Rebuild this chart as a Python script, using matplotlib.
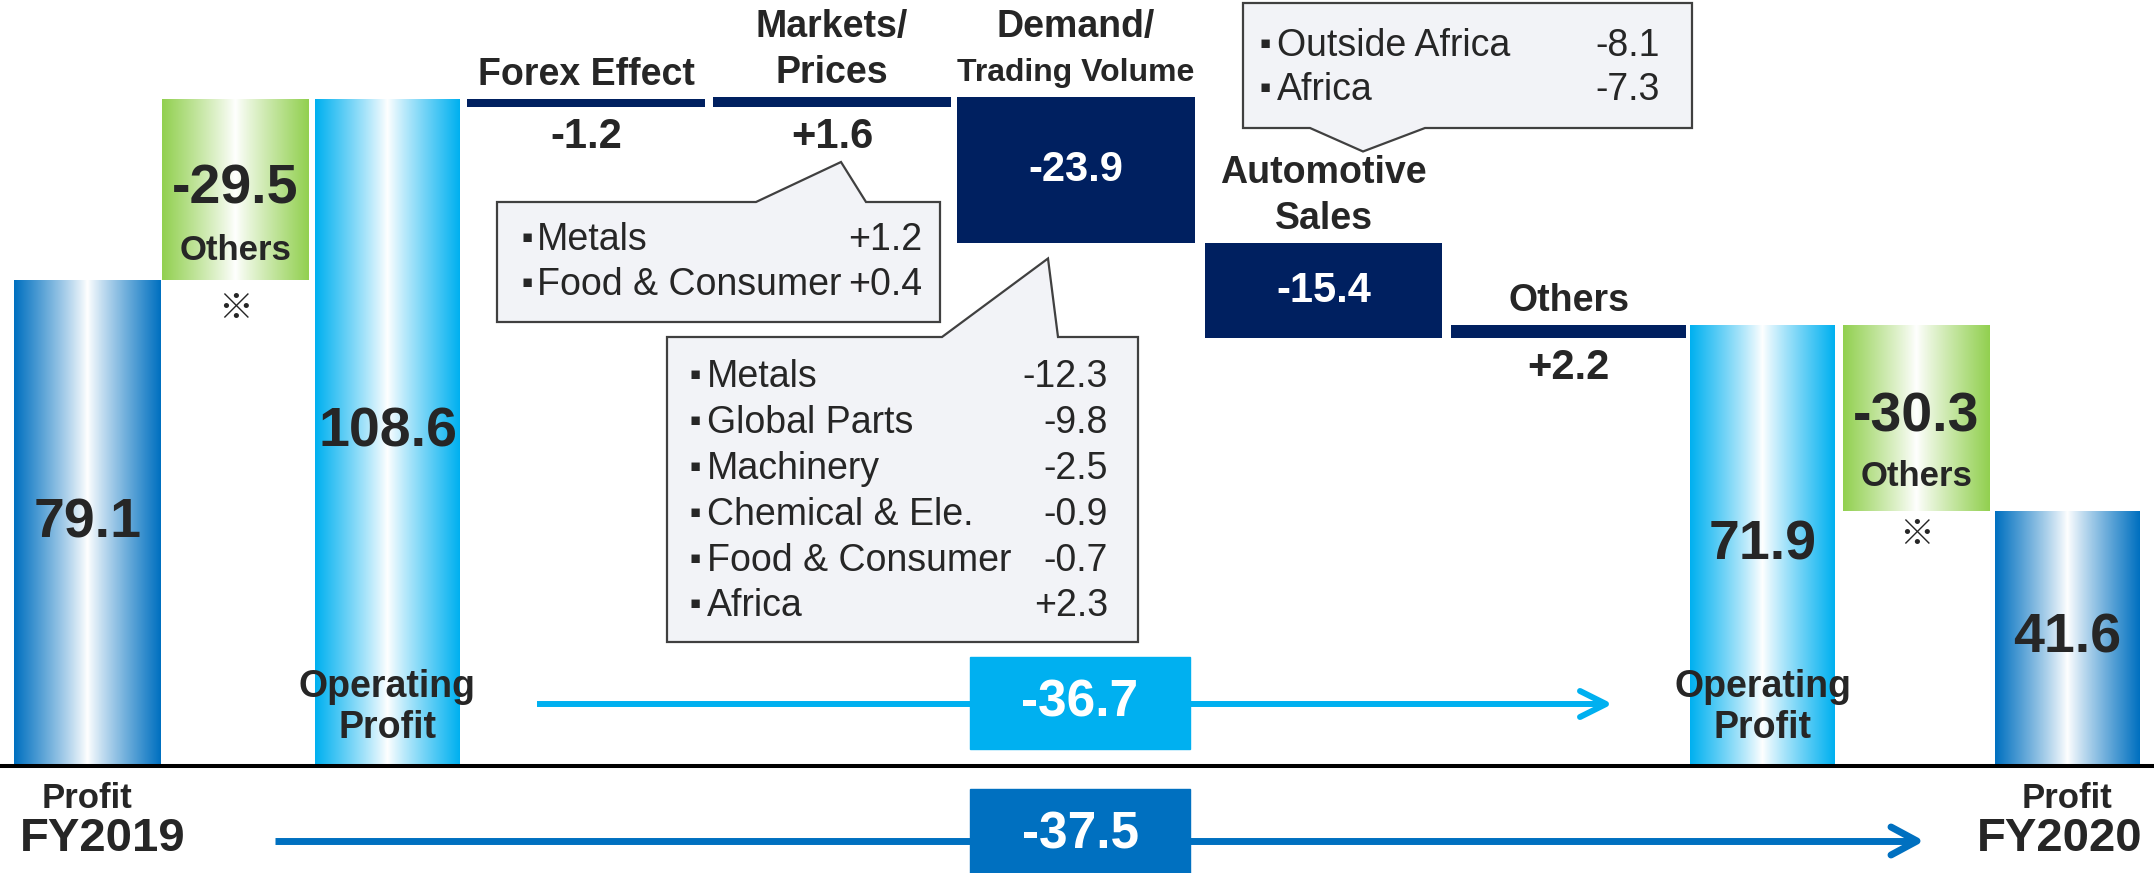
import numpy as np
import matplotlib
matplotlib.use("Agg")
import matplotlib.pyplot as plt
from matplotlib.colors import LinearSegmentedColormap
from matplotlib.patches import Polygon, Rectangle

# values (profit bridge FY2019 -> FY2020)
profit_fy2019 = 79.1
others_fy2019 = -29.5
op_fy2019 = 108.6
step_names = [["Forex Effect"], ["Markets/", "Prices"], ["Demand/", "Trading Volume"],
              ["Automotive", "Sales"], ["Others"]]
step_values = [-1.2, 1.6, -23.9, -15.4, 2.2]
op_fy2020 = 71.9
others_fy2020 = -30.3
profit_fy2020 = 41.6
op_change = -36.7
profit_change = -37.5

markets_items = ["Metals", "Food & Consumer"]
markets_values = ["+1.2", "+0.4"]
demand_items = ["Metals", "Global Parts", "Machinery", "Chemical & Ele.", "Food & Consumer", "Africa"]
demand_values = ["-12.3", "-9.8", "-2.5", "-0.9", "-0.7", "+2.3"]
auto_items = ["Outside Africa", "Africa"]
auto_values = ["-8.1", "-7.3"]

# layout (pixels)
W, H = 2154, 873
BASE = 766      # pixel row of the zero line
SCALE = 6.14    # pixels per unit
bar_left = [14, 162, 315, 467, 713, 957, 1205, 1451, 1690, 1843, 1995]
bar_right = [161, 309, 460, 705, 951, 1195, 1442, 1686, 1835, 1990, 2140]

FONT = ["Liberation Sans", "DejaVu Sans"]
CJK = ["Noto Sans CJK JP", "DejaVu Sans"]
DARK = "#262626"
NAVY = "#002060"
FY_BLUE = "#0070C0"
OP_BLUE = "#00B0F0"
GREEN = "#92D050"


def row(p):
    # pixel row (from top) -> data y
    return (BASE - p) / SCALE


def prow(v):
    # data y -> pixel row
    return BASE - v * SCALE


fig = plt.figure(figsize=(W / 100, H / 100), dpi=100)
ax = fig.add_axes([0, 0, 1, 1])


def txt(x, y, s, size, weight="bold", color=DARK, ha="center", family=FONT, z=6):
    ax.text(x, y, s, fontsize=size, fontweight=weight, color=color, ha=ha, va="center",
            family=family, zorder=z)


def grad_bar(i, bottom, height, color):
    xc = (bar_left[i] + bar_right[i]) / 2
    w = bar_right[i] - bar_left[i]
    b = ax.bar(xc, height, width=w, bottom=bottom, color=color, zorder=2)[0]
    cmap = LinearSegmentedColormap.from_list("g", ["white", color])
    t = np.abs(np.linspace(-1, 1, 300))[None, :] ** 0.9
    im = ax.imshow(t, cmap=cmap, vmin=0, vmax=1, aspect="auto", interpolation="bilinear",
                   extent=[bar_left[i], bar_right[i], bottom, bottom + height], zorder=2.5)
    im.set_clip_path(b)
    return xc


# FY2019 profit, others, operating profit
xc = grad_bar(0, 0, profit_fy2019, FY_BLUE)
txt(xc, profit_fy2019 / 2, f"{profit_fy2019:.1f}", 40)
txt(xc, row(798), "Profit", 25)
txt(20, row(839), "FY2019", 34, ha="left")

xc = grad_bar(1, profit_fy2019, -others_fy2019, GREEN)
txt(xc, profit_fy2019 - others_fy2019 / 2, f"{others_fy2019:.1f}", 40)
txt(xc, row(prow(profit_fy2019) - 30), "Others", 25)
txt(xc, row(prow(profit_fy2019) + 28), "※", 25, family=CJK)

xc = grad_bar(2, 0, op_fy2019, OP_BLUE)
txt(xc, op_fy2019 / 2, f"{op_fy2019:.1f}", 40)
txt(xc, row(687), "Operating", 27)
txt(xc, row(728), "Profit", 27)

# step bars
prev = op_fy2019
levels = op_fy2019 + np.cumsum(step_values)
name_sizes = [[27], [27, 27], [27, 23], [27, 27], [27]]
for k, (v, lev) in enumerate(zip(step_values, levels)):
    i = 3 + k
    xc = (bar_left[i] + bar_right[i]) / 2
    lo, hi = min(prev, lev), max(prev, lev)
    ax.bar(xc, hi - lo, width=bar_right[i] - bar_left[i], bottom=lo, color=NAVY, zorder=2)
    lab = f"{v:+.1f}" if v > 0 else f"{v:.1f}"
    if (hi - lo) * SCALE > 60:
        txt(xc, (hi + lo) / 2, lab, 30, color="white")
    else:
        txt(xc, row(prow(lo) + 30), lab, 30)
    lines = step_names[k]
    for j, (ln, sz) in enumerate(zip(lines[::-1], name_sizes[k][::-1])):
        txt(xc, row(prow(hi) - 24 - 46 * j), ln, sz)
    prev = lev

# FY2020 operating profit, others, profit
xc = grad_bar(8, 0, op_fy2020, OP_BLUE)
txt(xc, op_fy2020 / 2, f"{op_fy2020:.1f}", 40)
txt(xc, row(687), "Operating", 27)
txt(xc, row(728), "Profit", 27)

xc = grad_bar(9, profit_fy2020, -others_fy2020, GREEN)
txt(xc, profit_fy2020 - others_fy2020 / 2, f"{others_fy2020:.1f}", 40)
txt(xc, row(prow(profit_fy2020) - 34), "Others", 25)
txt(xc, row(prow(profit_fy2020) + 24), "※", 25, family=CJK)

xc = grad_bar(10, 0, profit_fy2020, FY_BLUE)
txt(xc, profit_fy2020 / 2, f"{profit_fy2020:.1f}", 40)
txt(xc, row(798), "Profit", 25)
txt(2142, row(839), "FY2020", 34, ha="right")

# zero line
ax.plot([0, W], [0, 0], color="black", lw=2.9, zorder=4, solid_capstyle="butt")


# change arrows
def arrow(x0, x1, r, color, lw, hl, hw):
    y = row(r)
    ax.plot([x0, x1 - 3], [y, y], color=color, lw=lw, solid_capstyle="butt", zorder=3)
    ax.plot([x1 - hl, x1, x1 - hl], [row(r - hw), y, row(r + hw)], color=color, lw=lw,
            solid_capstyle="round", solid_joinstyle="round", zorder=3)


arrow(537, 1606, 704, OP_BLUE, 4.3, 26, 13)
ax.add_patch(Rectangle((970, row(749)), 220, (749 - 657) / SCALE, color=OP_BLUE, zorder=5))
txt(1080, row(703), f"{op_change:.1f}", 37, color="white")

arrow(275, 1917, 841, FY_BLUE, 5.0, 26, 14)
ax.add_patch(Rectangle((970, row(880)), 220, (880 - 789) / SCALE, color=FY_BLUE, zorder=5))
txt(1080, row(835), f"{profit_change:.1f}", 37, color="white")


# callouts
def callout(verts, items, values, rows, xb, xt, xv):
    pts = [(x, row(r)) for x, r in verts]
    ax.add_patch(Polygon(pts, closed=True, facecolor="#F2F3F7", edgecolor="#404040",
                         lw=1.6, zorder=5))
    for it, val, r in zip(items, values, rows):
        txt(xb, row(r - 3), "▪", 12, weight="normal", family=["DejaVu Sans"])
        txt(xt, row(r), it, 27, weight="normal", ha="left")
        txt(xv, row(r), val, 27, weight="normal", ha="right")


callout([(497, 202), (756, 202), (841, 162), (866, 202), (940, 202), (940, 322), (497, 322)],
        markets_items, markets_values, [240, 285], 527, 537, 922)

demand_tip = prow(levels[2]) + 15
callout([(667, 337), (942, 337), (1048, demand_tip), (1058, 337), (1138, 337),
         (1138, 642), (667, 642)],
        demand_items, demand_values, [377, 423, 469, 515, 561, 606], 695, 707, 1108)

auto_tip = prow(levels[2]) - 24 - 46 - 22
callout([(1243, 3), (1692, 3), (1692, 128), (1425, 128), (1363, auto_tip), (1310, 128),
         (1243, 128)],
        auto_items, auto_values, [46, 90], 1265, 1277, 1660)

ax.set_xlim(0, W)
ax.set_ylim(row(H), row(0))
ax.axis("off")
fig.savefig("out.png", dpi=100, facecolor="white")
